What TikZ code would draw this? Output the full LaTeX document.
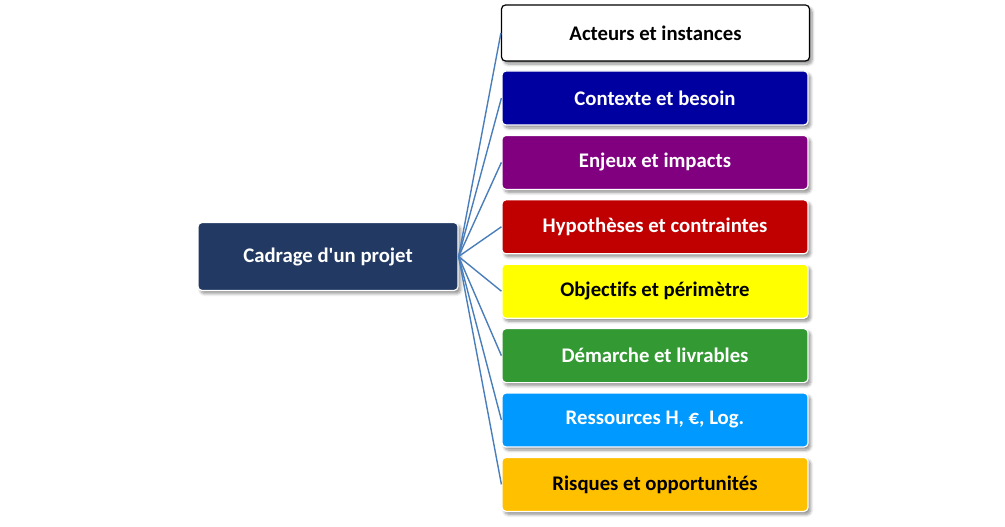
\documentclass[tikz,border=0pt]{standalone}
\usepackage{fontspec}
\newfontfamily\boxfont{Carlito}[Ligatures=NoCommon]
\usetikzlibrary{shadows.blur}
\definecolor{rootc}{HTML}{213963}
\definecolor{linec}{HTML}{4A7EBB}
\definecolor{c2}{HTML}{0000A0}
\definecolor{c3}{HTML}{800080}
\definecolor{c4}{HTML}{C00000}
\definecolor{c5}{HTML}{FFFF00}
\definecolor{c6}{HTML}{339933}
\definecolor{c7}{HTML}{0099FF}
\definecolor{c8}{HTML}{FFC000}
\tikzset{
  base/.style={rounded corners=4pt, font=\boxfont\bfseries\fontsize{20.75}{24}\selectfont, align=center,
    blur shadow={shadow xshift=2.5pt, shadow yshift=-3pt, shadow blur steps=6, shadow blur radius=3pt, shadow opacity=45}},
  item/.style={base, minimum width=306pt, minimum height=54pt, inner sep=0pt, draw=white, line width=1.2pt},
  rootbox/.style={base, minimum width=260pt, minimum height=68pt, inner sep=0pt, draw=white, line width=1.2pt, fill=rootc, text=white},
  conn/.style={draw=linec, line width=1.4pt}
}
\begin{document}
\begin{tikzpicture}[x=1pt,y=-1pt]
\useasboundingbox (0,0) rectangle (1005,527);
\node[rootbox] (root) at (328,256.5) {Cadrage d'un projet};
\node[item, fill=white, draw=black, minimum height=56pt, minimum width=308pt] (b1) at (655.5,33) {Acteurs et instances};
\node[item, fill=c2, text=white] (b2) at (655,98) {Contexte et besoin};
\node[item, fill=c3, text=white] (b3) at (655,162.4) {Enjeux et impacts};
\node[item, fill=c4, text=white] (b4) at (655,226.8) {Hypothèses et contraintes};
\node[item, fill=c5, text=black] (b5) at (655,291.2) {Objectifs et périmètre};
\node[item, fill=c6, text=white] (b6) at (655,355.6) {Démarche et livrables};
\node[item, fill=c7, text=white] (b7) at (655,420) {Ressources H, €, Log.};
\node[item, fill=c8, text=black] (b8) at (655,484.4) {Risques et opportunités};
\foreach \b in {b1,b2,b3,b4,b5,b6,b7,b8}{
  \draw[conn] (root.east) -- (\b.west);
}
\end{tikzpicture}
\end{document}
